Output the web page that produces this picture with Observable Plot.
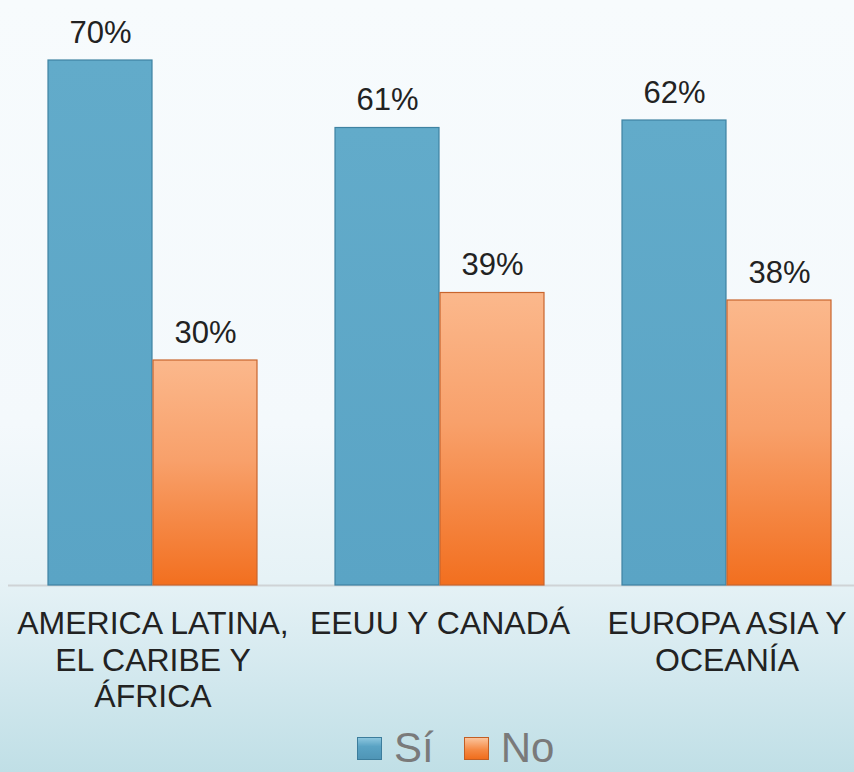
<!DOCTYPE html>
<html>
<head>
<meta charset="utf-8">
<script src="https://cdn.jsdelivr.net/npm/d3@7"></script>
<script src="https://cdn.jsdelivr.net/npm/@observablehq/plot@0.6"></script>
<style>
  html, body { margin: 0; padding: 0; }
  body {
    width: 854px; height: 772px; overflow: hidden;
    background: linear-gradient(to bottom, #f7fbfd 0%, #f4f9fc 55%, #e6f2f6 75%, #d2e8ee 88%, #c0dfe6 100%);
    font-family: "Liberation Sans", Arial, sans-serif;
  }
  #legend { display: flex; align-items: center; height: 44px; padding-top: 6px; margin-left: 357px; font-size: 42px; line-height: 44px; color: #7a7a7a; }
  .sw { width: 25px; height: 23px; margin-right: 12px; box-sizing: border-box; }
  .sw.si { background: linear-gradient(to bottom, #8cc6de, #5aa3c4 40%, #4f95b6); border: 1px solid #3c7d9c; }
  .sw.no { background: linear-gradient(to bottom, #fbc49c, #f58a45 55%, #f06d1c); border: 1px solid #c25e24; margin-left: 30px; }
</style>
</head>
<body>
<div id="chart"></div>
<div id="legend"><span class="sw si"></span><span>Sí</span><span class="sw no"></span><span>No</span></div>
<script>
const regions = ["AMERICA LATINA,\nEL CARIBE Y\nÁFRICA", "EEUU Y CANADÁ", "EUROPA ASIA Y\nOCEANÍA"];
const seriesNames = ["Sí", "No"];
const siValues = [70, 61, 62];
const noValues = [30, 39, 38];

const siRows = regions.map((r, i) => ({region: r, series: seriesNames[0], value: siValues[i]}));
const noRows = regions.map((r, i) => ({region: r, series: seriesNames[1], value: noValues[i]}));

const half = 105;
const chart = Plot.plot({
  width: 854,
  height: 720,
  marginLeft: 8,
  marginRight: 0,
  marginTop: 0,
  marginBottom: 135,
  style: {background: "transparent", fontFamily: "Liberation Sans, Arial, sans-serif", overflow: "visible"},
  x: {domain: regions, range: [47, 833], paddingInner: 0.2708, paddingOuter: 0, axis: null},
  y: {domain: [0, 70], range: [585, 60], axis: null},
  marks: [
    Plot.ruleY([0], {stroke: "#cfd3d6", strokeWidth: 2}),
    Plot.barY(siRows, {x: "region", y: "value", insetRight: half, fill: "url(#gSi)", stroke: "#3f83a2", strokeWidth: 1.2}),
    Plot.barY(noRows, {x: "region", y: "value", insetLeft: half, fill: "url(#gNo)", stroke: "#c8652e", strokeWidth: 1.2}),
    Plot.text(siRows, {x: "region", y: "value", text: d => d.value + "%", dx: -half / 2, dy: -18, lineAnchor: "bottom", fontSize: 31, fill: "#222"}),
    Plot.text(noRows, {x: "region", y: "value", text: d => d.value + "%", dx: half / 2, dy: -18, lineAnchor: "bottom", fontSize: 31, fill: "#222"}),
    Plot.text(regions, {x: d => d, y: () => 0, text: d => d, lineAnchor: "top", dy: 23, fontSize: 32, lineHeight: 1.14, fill: "#222"})
  ]
});

const svg = d3.select(chart);
const defs = svg.insert("defs", ":first-child");
const gSi = defs.append("linearGradient").attr("id", "gSi").attr("x1", 0).attr("y1", 0).attr("x2", 0).attr("y2", 1);
gSi.append("stop").attr("offset", "0%").attr("stop-color", "#62abca");
gSi.append("stop").attr("offset", "100%").attr("stop-color", "#5aa4c5");
const gNo = defs.append("linearGradient").attr("id", "gNo").attr("x1", 0).attr("y1", 0).attr("x2", 0).attr("y2", 1);
gNo.append("stop").attr("offset", "0%").attr("stop-color", "#fbb88c");
gNo.append("stop").attr("offset", "45%").attr("stop-color", "#f8a06a");
gNo.append("stop").attr("offset", "100%").attr("stop-color", "#f26f1f");

document.getElementById("chart").appendChild(chart);
</script>
</body>
</html>
